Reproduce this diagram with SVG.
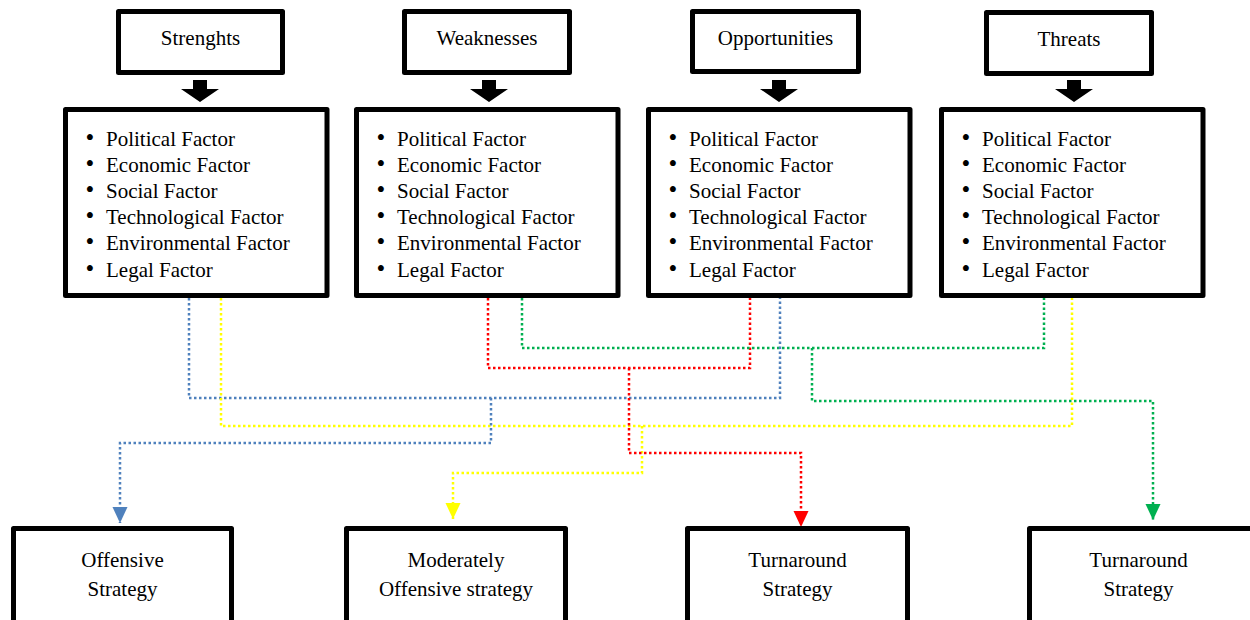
<svg xmlns="http://www.w3.org/2000/svg" width="1250" height="620" viewBox="0 0 1250 620">
<style>
  .box{fill:#fff;stroke:#000;stroke-width:5;stroke-linejoin:round}
  .t{font-family:"Liberation Serif","Times New Roman",serif;font-size:21px;fill:#000}
  .b{font-size:25px}
  .c{text-anchor:middle}
  .blk{fill:#000}
  .dot{fill:none;stroke-width:2.5;stroke-dasharray:2.5 2.5}
  .blue{stroke:#4f81bd}.yellow{stroke:#ffff00}.red{stroke:#ff0000}.green{stroke:#00b050}
</style>
<defs>
  <marker id="mb" markerUnits="userSpaceOnUse" markerWidth="16" markerHeight="16" refX="16" refY="7.5" orient="auto"><path d="M0,0 L16,7.5 L0,15 z" fill="#4f81bd"/></marker>
  <marker id="my" markerUnits="userSpaceOnUse" markerWidth="16" markerHeight="16" refX="16" refY="7.5" orient="auto"><path d="M0,0 L16,7.5 L0,15 z" fill="#ffff00"/></marker>
  <marker id="mr" markerUnits="userSpaceOnUse" markerWidth="16" markerHeight="16" refX="16" refY="7.5" orient="auto"><path d="M0,0 L16,7.5 L0,15 z" fill="#ff0000"/></marker>
  <marker id="mg" markerUnits="userSpaceOnUse" markerWidth="16" markerHeight="16" refX="16" refY="7.5" orient="auto"><path d="M0,0 L16,7.5 L0,15 z" fill="#00b050"/></marker>
  <path id="blockArrow" d="M-7,0 H7 V9 H19 L0,22 L-19,9 H-7 z"/>
</defs>

<!-- top header boxes -->
<g id="strengths">
  <rect class="box" x="118.5" y="11.5" width="164" height="61"/>
  <text class="t c" x="200.5" y="45">Strenghts</text>
</g>
<g id="weaknesses">
  <rect class="box" x="404.5" y="11.5" width="165" height="61"/>
  <text class="t c" x="487" y="45">Weaknesses</text>
</g>
<g id="opportunities">
  <rect class="box" x="692.5" y="11.5" width="166" height="60"/>
  <text class="t c" x="775.5" y="45">Opportunities</text>
</g>
<g id="threats">
  <rect class="box" x="986.5" y="12.5" width="165" height="61"/>
  <text class="t c" x="1069" y="46">Threats</text>
</g>

<!-- block arrows -->
<g id="block-arrows" class="blk">
  <use href="#blockArrow" x="200" y="80"/>
  <use href="#blockArrow" x="489" y="80"/>
  <use href="#blockArrow" x="779" y="80"/>
  <use href="#blockArrow" x="1074" y="80"/>
</g>

<!-- factor boxes -->
<g id="factors-s">
  <rect class="box" x="65.5" y="109.5" width="261.5" height="186"/>
  <text class="t" y="146"><tspan class="b" x="85.5">•</tspan><tspan x="106">Political Factor</tspan></text>
  <text class="t" y="172"><tspan class="b" x="85.5">•</tspan><tspan x="106">Economic Factor</tspan></text>
  <text class="t" y="198"><tspan class="b" x="85.5">•</tspan><tspan x="106">Social Factor</tspan></text>
  <text class="t" y="224"><tspan class="b" x="85.5">•</tspan><tspan x="106">Technological Factor</tspan></text>
  <text class="t" y="250"><tspan class="b" x="85.5">•</tspan><tspan x="106">Environmental Factor</tspan></text>
  <text class="t" y="277"><tspan class="b" x="85.5">•</tspan><tspan x="106">Legal Factor</tspan></text>
</g>
<g id="factors-w">
  <rect class="box" x="356.5" y="109.5" width="261.5" height="186"/>
  <text class="t" y="146"><tspan class="b" x="376.5">•</tspan><tspan x="397">Political Factor</tspan></text>
  <text class="t" y="172"><tspan class="b" x="376.5">•</tspan><tspan x="397">Economic Factor</tspan></text>
  <text class="t" y="198"><tspan class="b" x="376.5">•</tspan><tspan x="397">Social Factor</tspan></text>
  <text class="t" y="224"><tspan class="b" x="376.5">•</tspan><tspan x="397">Technological Factor</tspan></text>
  <text class="t" y="250"><tspan class="b" x="376.5">•</tspan><tspan x="397">Environmental Factor</tspan></text>
  <text class="t" y="277"><tspan class="b" x="376.5">•</tspan><tspan x="397">Legal Factor</tspan></text>
</g>
<g id="factors-o">
  <rect class="box" x="648.5" y="109.5" width="261.5" height="186"/>
  <text class="t" y="146"><tspan class="b" x="668.5">•</tspan><tspan x="689">Political Factor</tspan></text>
  <text class="t" y="172"><tspan class="b" x="668.5">•</tspan><tspan x="689">Economic Factor</tspan></text>
  <text class="t" y="198"><tspan class="b" x="668.5">•</tspan><tspan x="689">Social Factor</tspan></text>
  <text class="t" y="224"><tspan class="b" x="668.5">•</tspan><tspan x="689">Technological Factor</tspan></text>
  <text class="t" y="250"><tspan class="b" x="668.5">•</tspan><tspan x="689">Environmental Factor</tspan></text>
  <text class="t" y="277"><tspan class="b" x="668.5">•</tspan><tspan x="689">Legal Factor</tspan></text>
</g>
<g id="factors-t">
  <rect class="box" x="941.5" y="109.5" width="261.5" height="186"/>
  <text class="t" y="146"><tspan class="b" x="961.5">•</tspan><tspan x="982">Political Factor</tspan></text>
  <text class="t" y="172"><tspan class="b" x="961.5">•</tspan><tspan x="982">Economic Factor</tspan></text>
  <text class="t" y="198"><tspan class="b" x="961.5">•</tspan><tspan x="982">Social Factor</tspan></text>
  <text class="t" y="224"><tspan class="b" x="961.5">•</tspan><tspan x="982">Technological Factor</tspan></text>
  <text class="t" y="250"><tspan class="b" x="961.5">•</tspan><tspan x="982">Environmental Factor</tspan></text>
  <text class="t" y="277"><tspan class="b" x="961.5">•</tspan><tspan x="982">Legal Factor</tspan></text>
</g>

<!-- connectors -->
<g id="connectors">
  <path class="dot red" d="M488,298 V368 H750 V298"/>
  <path class="dot green" d="M522,298 V348 H1044 V298"/>
  <path class="dot blue" d="M189,298 V398 H780 V298"/>
  <path class="dot yellow" d="M221,298 V426 H1072 V298"/>
  <path class="dot blue" d="M491,398 V443 H120 V523" marker-end="url(#mb)"/>
  <path class="dot yellow" d="M642,426 V473 H453 V519" marker-end="url(#my)"/>
  <path class="dot red" d="M629,368 V453 H801 V527" marker-end="url(#mr)"/>
  <path class="dot green" d="M812,348 V401 H1153 V520" marker-end="url(#mg)"/>
</g>

<!-- strategy boxes -->
<g id="offensive">
  <rect class="box" x="13.5" y="528.5" width="218" height="100"/>
  <text class="t c" x="122.5" y="567">Offensive</text>
  <text class="t c" x="122.5" y="596">Strategy</text>
</g>
<g id="moderately">
  <rect class="box" x="346.5" y="528.5" width="219" height="100"/>
  <text class="t c" x="456" y="567">Moderately</text>
  <text class="t c" x="456" y="596">Offensive strategy</text>
</g>
<g id="turnaround-1">
  <rect class="box" x="687.5" y="528.5" width="220" height="100"/>
  <text class="t c" x="797.5" y="567">Turnaround</text>
  <text class="t c" x="797.5" y="596">Strategy</text>
</g>
<g id="turnaround-2">
  <rect class="box" x="1029.5" y="528.5" width="225" height="100"/>
  <text class="t c" x="1138.5" y="567">Turnaround</text>
  <text class="t c" x="1138.5" y="596">Strategy</text>
</g>
</svg>
